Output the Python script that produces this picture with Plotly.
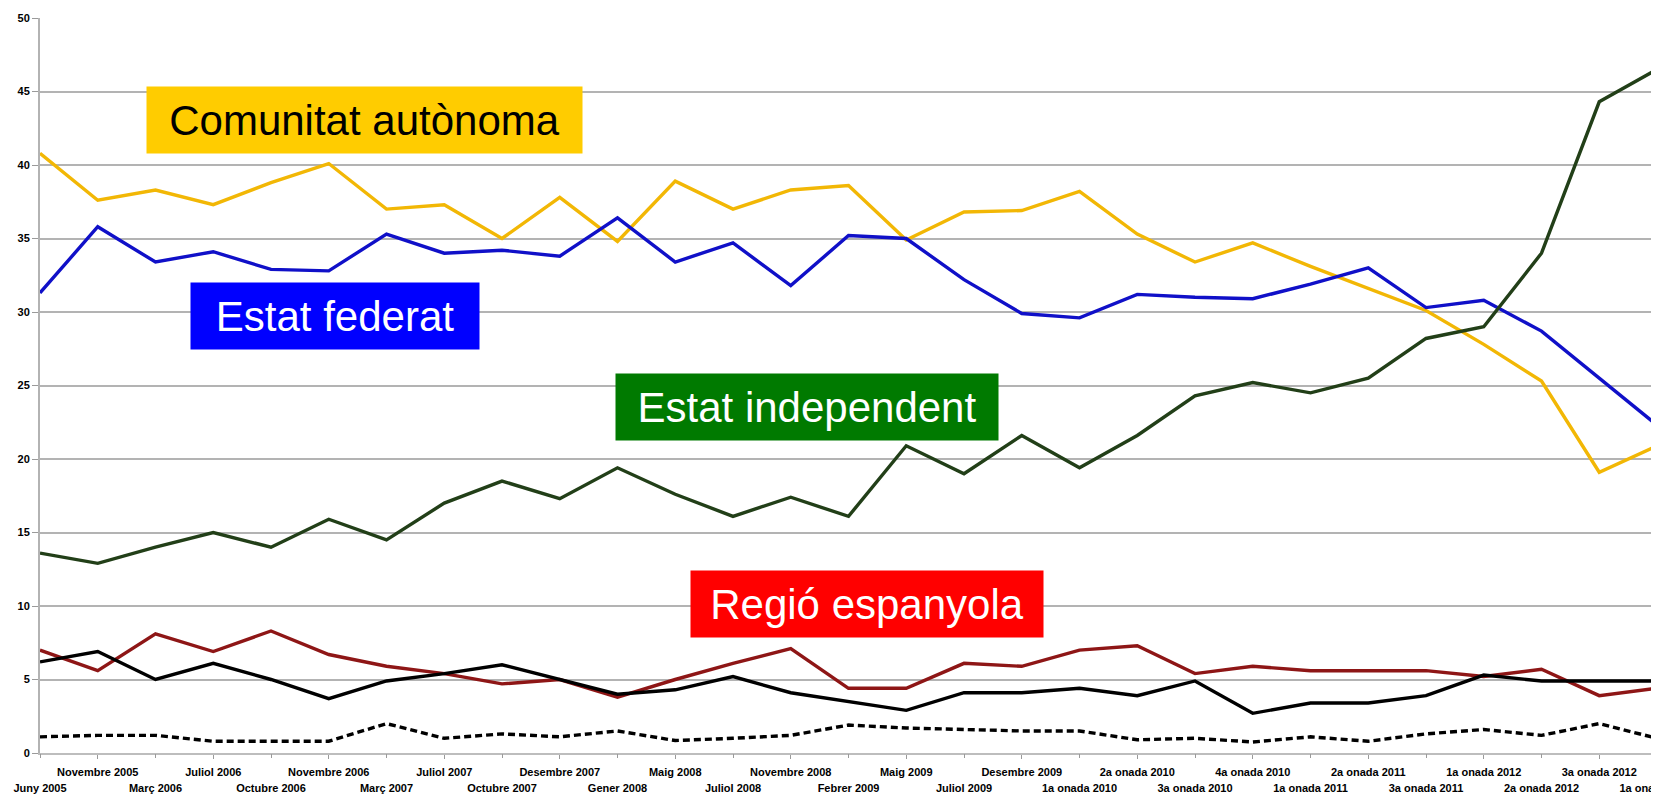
import plotly.graph_objects as go

periodes = ["Juny 2005", "Novembre 2005", "Març 2006", "Juliol 2006", "Octubre 2006",
            "Novembre 2006", "Març 2007", "Juliol 2007", "Octubre 2007", "Desembre 2007",
            "Gener 2008", "Maig 2008", "Juliol 2008", "Novembre 2008", "Febrer 2009",
            "Maig 2009", "Juliol 2009", "Desembre 2009", "1a onada 2010", "2a onada 2010",
            "3a onada 2010", "4a onada 2010", "1a onada 2011", "2a onada 2011", "3a onada 2011",
            "1a onada 2012", "2a onada 2012", "3a onada 2012", "1a onada 2013"]

comunitat = [40.8, 37.6, 38.3, 37.3, 38.8, 40.1, 37.0, 37.3, 35.0, 37.8, 34.8, 38.9, 37.0, 38.3, 38.6,
             34.9, 36.8, 36.9, 38.2, 35.3, 33.4, 34.7, 33.1, 31.6, 30.1, 27.8, 25.3, 19.1, 20.9]
federat = [31.3, 35.8, 33.4, 34.1, 32.9, 32.8, 35.3, 34.0, 34.2, 33.8, 36.4, 33.4, 34.7, 31.8, 35.2,
           35.0, 32.2, 29.9, 29.6, 31.2, 31.0, 30.9, 31.9, 33.0, 30.3, 30.8, 28.7, 25.5, 22.3]
independent = [13.6, 12.9, 14.0, 15.0, 14.0, 15.9, 14.5, 17.0, 18.5, 17.3, 19.4, 17.6, 16.1, 17.4, 16.1,
               20.9, 19.0, 21.6, 19.4, 21.6, 24.3, 25.2, 24.5, 25.5, 28.2, 29.0, 34.0, 44.3, 46.5]
regio = [7.0, 5.6, 8.1, 6.9, 8.3, 6.7, 5.9, 5.4, 4.7, 5.0, 3.8, 5.0, 6.1, 7.1, 4.4,
         4.4, 6.1, 5.9, 7.0, 7.3, 5.4, 5.9, 5.6, 5.6, 5.6, 5.2, 5.7, 3.9, 4.4]
no_ho_sap = [6.2, 6.9, 5.0, 6.1, 5.0, 3.7, 4.9, 5.4, 6.0, 5.0, 4.0, 4.3, 5.2, 4.1, 3.5,
             2.9, 4.1, 4.1, 4.4, 3.9, 4.9, 2.7, 3.4, 3.4, 3.9, 5.3, 4.9, 4.9, 4.9]
no_contesta = [1.1, 1.2, 1.2, 0.8, 0.8, 0.8, 2.0, 1.0, 1.3, 1.1, 1.5, 0.85, 1.0, 1.2, 1.9,
               1.7, 1.6, 1.5, 1.5, 0.9, 1.0, 0.75, 1.1, 0.8, 1.3, 1.6, 1.2, 2.0, 1.0]

idx = list(range(len(periodes)))
odd_idx = idx[1::2]
even_idx = idx[0::2]

fig = go.Figure()
series = [
    ("Comunitat autònoma", comunitat, "#F2B705", "solid", "x"),
    ("Estat federat", federat, "#1010C8", "solid", "x"),
    ("Estat independent", independent, "#223F18", "solid", "x"),
    ("Regió espanyola", regio, "#8E1616", "solid", "x"),
    ("No ho sap", no_ho_sap, "#000000", "solid", "x"),
    ("No contesta", no_contesta, "#000000", "7px,4px", "x2"),
]
for name, vals, col, dash, xa in series:
    fig.add_trace(go.Scatter(x=idx, y=vals, name=name, mode="lines", xaxis=xa,
                             line=dict(color=col, width=3.4, dash=dash)))

tickfont = dict(family="Liberation Sans, Arial", size=11, color="#000000", weight="bold")

fig.update_layout(
    width=1651, height=791,
    margin=dict(l=32, r=2, t=10, b=46),
    paper_bgcolor="white", plot_bgcolor="white",
    showlegend=False,
    xaxis=dict(type="linear", range=[0, 28], tickvals=odd_idx,
               ticktext=[periodes[i] for i in odd_idx],
               showgrid=False, zeroline=False, showline=True, linecolor="#bdbdbd", linewidth=1.5,
               ticks="outside", ticklen=4, tickcolor="#9a9a9a", tickfont=tickfont,
               ticklabelstandoff=4, automargin=False, ticklabeloverflow="allow"),
    xaxis2=dict(type="linear", range=[0, 28], overlaying="x", anchor="y", side="bottom",
                tickvals=even_idx, ticktext=[periodes[i] for i in even_idx],
                showgrid=False, zeroline=False, showline=False,
                ticks="outside", ticklen=4, tickcolor="#9a9a9a", tickfont=tickfont,
                ticklabelstandoff=21, automargin=False, ticklabeloverflow="allow"),
    yaxis=dict(range=[0, 50], tick0=0, dtick=5, showgrid=True, gridcolor="#b3b3b3", gridwidth=1.5,
               zeroline=False, showline=True, linecolor="#b3b3b3", linewidth=2, mirror=True,
               ticks="outside", ticklen=6, tickcolor="#9a9a9a", tickfont=tickfont,
               automargin=False),
)

labels = [
    ("Comunitat autònoma", 0.2007, 0.8612, 435, "#FFCC00", "#000000"),
    ("Estat federat", 0.1824, 0.5946, 288, "#0000FF", "#FFFFFF"),
    ("Estat independent", 0.4743, 0.4707, 382, "#007A00", "#FFFFFF"),
    ("Regió espanyola", 0.5114, 0.2034, 352, "#FF0000", "#FFFFFF"),
]
for text, px, py, w, bg, fc in labels:
    fig.add_annotation(text=text, xref="paper", yref="paper", x=px, y=py,
                       xanchor="center", yanchor="middle", showarrow=False,
                       width=w, height=66, bgcolor=bg, borderpad=0,
                       font=dict(family="Liberation Sans, Arial", size=42, color=fc))

fig.write_html("out.html")
